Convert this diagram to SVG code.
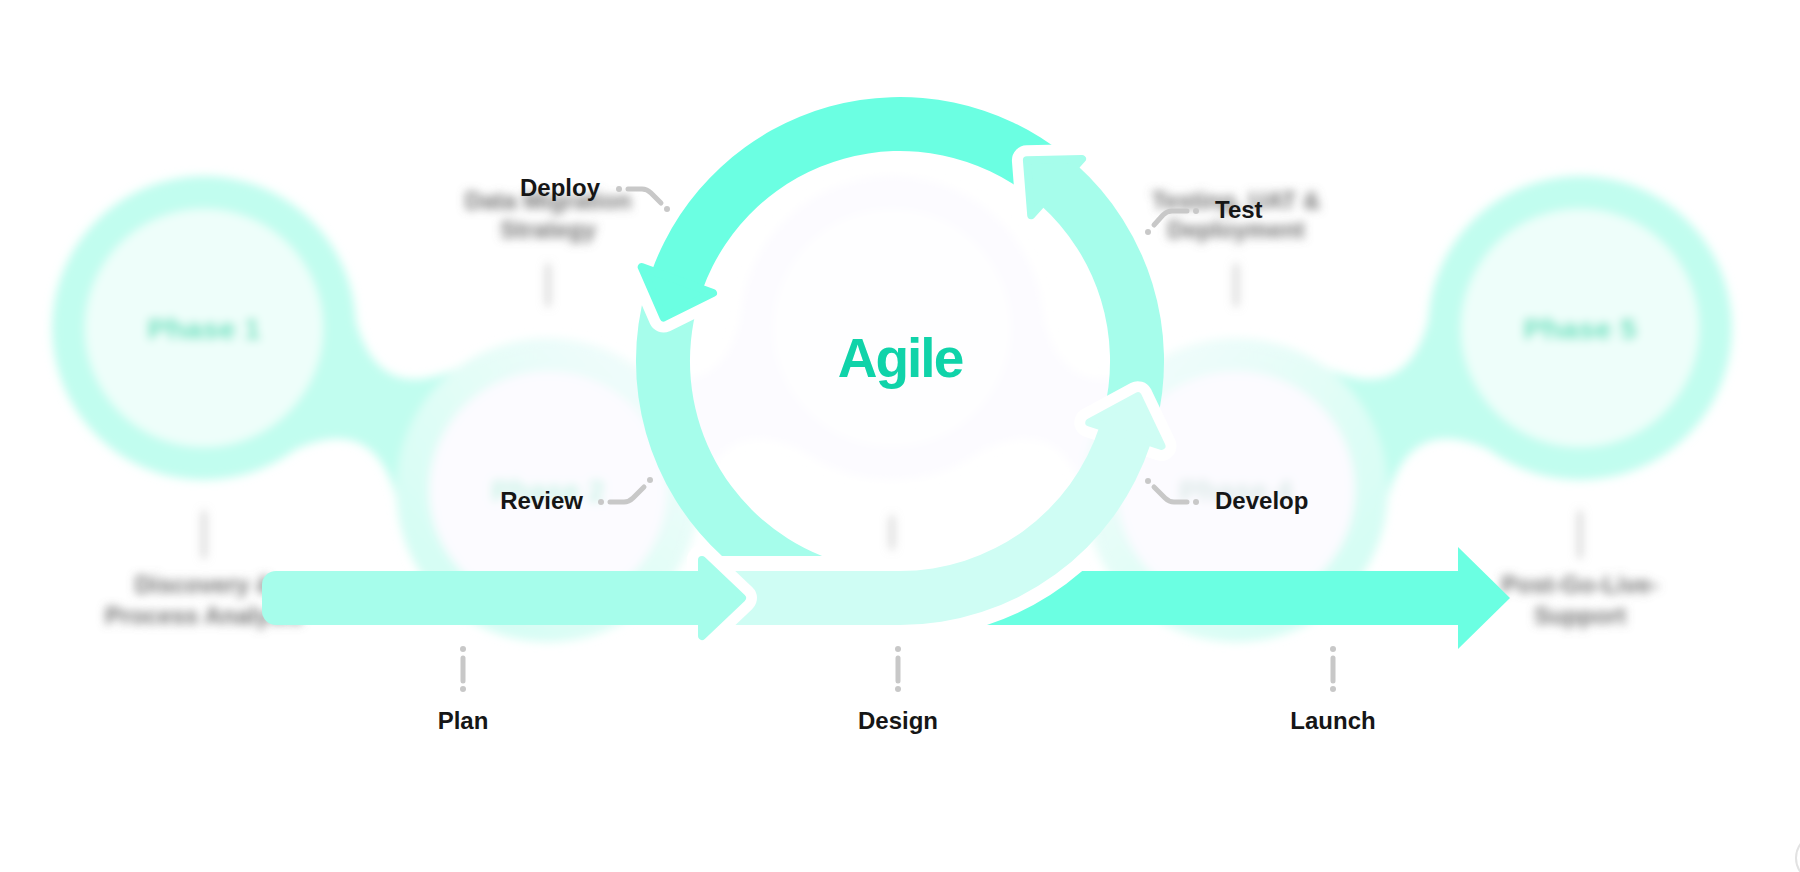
<svg xmlns="http://www.w3.org/2000/svg" width="1800" height="872" viewBox="0 0 1800 872">
<defs>
<filter id="blur" x="-5%" y="-5%" width="110%" height="110%"><feGaussianBlur stdDeviation="5"/></filter>
<linearGradient id="gB" x1="0" y1="1" x2="1" y2="0">
  <stop offset="0" stop-color="#cffdf2"/>
  <stop offset="0.55" stop-color="#e3fdf7"/>
  <stop offset="1" stop-color="#f6fcfd"/>
</linearGradient>
<linearGradient id="gB2" x1="1" y1="1" x2="0" y2="0">
  <stop offset="0" stop-color="#cffdf2"/>
  <stop offset="0.55" stop-color="#e3fdf7"/>
  <stop offset="1" stop-color="#f6fcfd"/>
</linearGradient>
<style>
.lbl{font-family:"Liberation Sans",Arial,sans-serif;font-weight:700;font-size:24px;fill:#161616}
.ph{font-family:"Liberation Sans",Arial,sans-serif;font-weight:700;font-size:30px;text-anchor:middle}
.desc{font-family:"Liberation Sans",Arial,sans-serif;font-weight:700;font-size:24px;fill:#727272;text-anchor:middle}
.tick{stroke:#b5b5b5;stroke-width:3;stroke-linecap:round}
.con{fill:none;stroke:#c8c8c8;stroke-width:5;stroke-linecap:round;stroke-linejoin:round}
.dot{fill:#c8c8c8}
.bright{fill:#6bffe2}
.mid{fill:#a6fdeb}
.light{fill:#cffdf4}
.halo{fill:#fff;stroke:#fff;stroke-width:30;stroke-linejoin:round}
.hB{fill:#6bffe2;stroke:#6bffe2;stroke-width:8;stroke-linejoin:round}
.hM{fill:#a6fdeb;stroke:#a6fdeb;stroke-width:8;stroke-linejoin:round}
.hL{fill:#cffdf4;stroke:#cffdf4;stroke-width:8;stroke-linejoin:round}
.ringA{fill:#c1fdef}.coreA{fill:#eefefa}
.coreB{fill:#fcfbff}
.ringC{fill:#fcfbff}.coreC{fill:#fefeff}
.neckC{fill:#fcfbff}
</style>
</defs>
<rect width="1800" height="872" fill="#ffffff"/>

<g id="background" filter="url(#blur)">
  <path class="ringA" d="M278.6,458.2 Q380.3,400 400.2,515.7 L473.4,359.8 Q371.7,418 351.8,302.3 Z"/>
  <path class="neckC" d="M695.8,515.7 Q715.7,400 817.4,458.2 L744.2,302.3 Q724.3,418 622.6,359.8 Z"/>
  <path class="neckC" d="M966.6,458.2 Q1068.3,400 1088.2,515.7 L1161.4,359.8 Q1059.7,418 1039.8,302.3 Z"/>
  <path class="ringA" d="M1383.8,515.7 Q1403.7,400 1505.4,458.2 L1432.2,302.3 Q1412.3,418 1310.6,359.8 Z"/>
  <g id="phase3"><circle class="ringC" cx="892" cy="328" r="152"/><circle class="coreC" cx="892" cy="328" r="119"/></g>
  <g id="phase1"><circle class="ringA" cx="204" cy="328" r="152"/><circle class="coreA" cx="204" cy="328" r="119"/><text class="ph" x="204" y="339" fill="#45e0bb">Phase 1</text></g>
  <g id="phase2"><circle fill="url(#gB)" cx="548" cy="490" r="152"/><circle class="coreB" cx="548" cy="490" r="119"/><text class="ph" x="548" y="501" fill="#c4f3e5">Phase 2</text></g>
  <g id="phase4"><circle fill="url(#gB2)" cx="1236" cy="490" r="152"/><circle class="coreB" cx="1236" cy="490" r="119"/><text class="ph" x="1236" y="501" fill="#d9e8e6">Phase 4</text></g>
  <g id="phase5"><circle class="ringA" cx="1580" cy="328" r="152"/><circle class="coreA" cx="1580" cy="328" r="119"/><text class="ph" x="1580" y="339" fill="#45e0bb">Phase 5</text></g>
  <line class="tick" x1="204" y1="512" x2="204" y2="557"/>
  <line class="tick" x1="548" y1="265" x2="548" y2="305"/>
  <line class="tick" x1="892" y1="517" x2="892" y2="548"/>
  <line class="tick" x1="1236" y1="265" x2="1236" y2="305"/>
  <line class="tick" x1="1580" y1="512" x2="1580" y2="557"/>
  <text class="desc" x="204" y="593">Discovery &amp;</text>
  <text class="desc" x="204" y="624">Process Analysis</text>
  <text class="desc" x="548" y="209">Data Migration</text>
  <text class="desc" x="548" y="238">Strategy</text>
  <text class="desc" x="1236" y="209">Testing, UAT &amp;</text>
  <text class="desc" x="1236" y="238">Deployment</text>
  <text class="desc" x="1580" y="593">Post-Go-Live-</text>
  <text class="desc" x="1580" y="624">Support</text>
</g>

<g id="agile-cycle">
  <g id="review-arc"><path class="mid" d="M646.2,288.2 A264,264 0 0 0 722.0,556 L822.1,556 A210,210 0 0 1 698.1,303.1 Z"/></g>
  <polygon class="halo" points="641.6,267.0 663.6,317.5 713.0,293.0"/>
  <g id="deploy-arc">
    <path class="bright" d="M1066.1,155.8 A264,264 0 0 0 651.9,270.7 L702.7,289.2 A210,210 0 0 1 1032.2,197.8 Z"/>
    <polygon class="hB" points="641.6,267.0 663.6,317.5 713.0,293.0"/>
  </g>
  <polygon class="halo" points="1082.0,158.9 1026.9,160.3 1031.2,215.3"/>
  <g id="test-arc">
    <path class="mid" d="M1156.2,424.9 A264,264 0 0 0 1076.6,164.8 L1040.5,204.9 A210,210 0 0 1 1103.8,411.8 Z"/>
    <polygon class="hM" points="1082.0,158.9 1026.9,160.3 1031.2,215.3"/>
  </g>
  <polygon class="halo" points="1089.3,422.5 1137.8,396.2 1161.5,445.9"/>
  <g id="design-develop-arc">
    <path class="light" d="M705,571 L900,571 A210,210 0 0 0 1099.7,425.9 L1151.1,442.6 A264,264 0 0 1 900,625 L705,625 Z"/>
    <polygon class="hL" points="1089.3,422.5 1137.8,396.2 1161.5,445.9"/>
  </g>
  <polygon class="halo" points="702,560 742,598 702,636"/>
  <g id="plan-arrow">
    <path class="mid" d="M276,571 H705 V625 H276 A14,14 0 0 1 262,611 V585 A14,14 0 0 1 276,571 Z"/>
    <polygon class="hM" points="702,560 742,598 702,636"/>
  </g>
  <g id="launch-arrow">
    <path class="bright" d="M1082.2,571 L1458,571 L1458,547 L1510,598 L1458,649 L1458,625 L987,625 A278,278 0 0 0 1082.2,571 Z"/>
  </g>
  <g id="agile-title"><text x="900" y="377" text-anchor="middle" font-family="Liberation Sans, Arial, sans-serif" font-weight="700" font-size="55" letter-spacing="-2" fill="#10d3a9">Agile</text></g>
</g>

<g id="connectors">
  <circle class="dot" cx="619" cy="189" r="3"/><path class="con" d="M628,189 H642 Q647,189 651,193 L661,203"/><circle class="dot" cx="667" cy="209" r="3"/>
  <circle class="dot" cx="1196" cy="211" r="3"/><path class="con" d="M1187,211 H1172 Q1167,211 1163,215 L1154,225"/><circle class="dot" cx="1148" cy="232" r="3"/>
  <circle class="dot" cx="601" cy="502" r="3"/><path class="con" d="M610,502 H624 Q629,502 633,498 L644,487"/><circle class="dot" cx="650" cy="480" r="3"/>
  <circle class="dot" cx="1148" cy="481" r="3"/><path class="con" d="M1154,487 L1165,498 Q1169,502 1174,502 H1187"/><circle class="dot" cx="1196" cy="502" r="3"/>
  <circle class="dot" cx="463" cy="649" r="3"/><path class="con" d="M463,658 V681"/><circle class="dot" cx="463" cy="689" r="3"/>
  <circle class="dot" cx="898" cy="649" r="3"/><path class="con" d="M898,658 V681"/><circle class="dot" cx="898" cy="689" r="3"/>
  <circle class="dot" cx="1333" cy="649" r="3"/><path class="con" d="M1333,658 V681"/><circle class="dot" cx="1333" cy="689" r="3"/>
</g>

<g id="label-deploy"><text class="lbl" x="600" y="196" text-anchor="end">Deploy</text></g>
<g id="label-test"><text class="lbl" x="1215" y="218">Test</text></g>
<g id="label-review"><text class="lbl" x="583" y="509" text-anchor="end">Review</text></g>
<g id="label-develop"><text class="lbl" x="1215" y="509">Develop</text></g>
<g id="label-plan"><text class="lbl" x="463" y="729" text-anchor="middle">Plan</text></g>
<g id="label-design"><text class="lbl" x="898" y="729" text-anchor="middle">Design</text></g>
<g id="label-launch"><text class="lbl" x="1333" y="729" text-anchor="middle">Launch</text></g>

<g id="corner-button"><circle cx="1820" cy="858" r="24" fill="#ffffff" stroke="#e2e2e2" stroke-width="2"/></g>
</svg>
